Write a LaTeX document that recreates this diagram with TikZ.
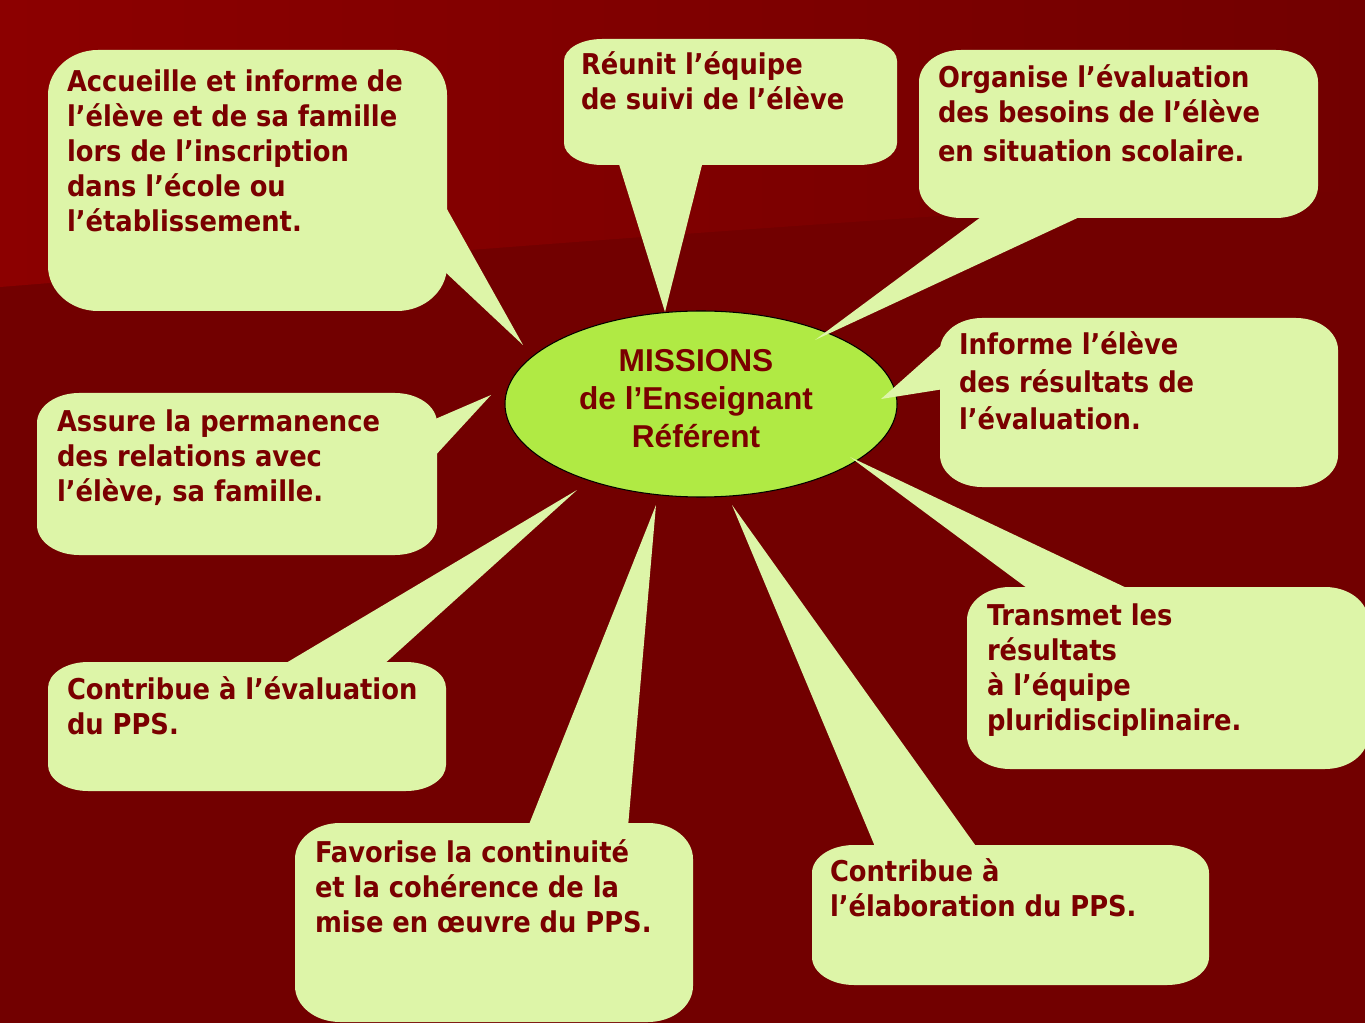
\documentclass[tikz,border=0pt]{standalone}
\usepackage{fontspec}
\setmainfont{DejaVu Sans Condensed}
\newfontfamily\arialb{Liberation Sans}
\definecolor{bgdark}{RGB}{114,0,0}
\definecolor{bglight}{RGB}{140,0,0}
\definecolor{bubfill}{RGB}{221,245,168}
\definecolor{ellfill}{RGB}{176,234,68}
\definecolor{ink}{RGB}{122,0,0}
\newcommand\mystrut{\rule{0pt}{16pt}}
\newcommand\ctrstrut{\rule{0pt}{18pt}}
% rounded box with elliptic corners: x1 y1 x2 y2 rx ry (pixel coords, y down)
\newcommand\rbox[6]{%
  \fill[bubble] (#1+#5,#2) -- (#3-#5,#2)
    arc[start angle=-90,end angle=0,x radius=#5,y radius=#6]
    -- (#3,#4-#6)
    arc[start angle=0,end angle=90,x radius=#5,y radius=#6]
    -- (#1+#5,#4)
    arc[start angle=90,end angle=180,x radius=#5,y radius=#6]
    -- (#1,#2+#6)
    arc[start angle=180,end angle=270,x radius=#5,y radius=#6] -- cycle;}
\begin{document}
\begin{tikzpicture}[x=0.02cm,y=-0.02cm,
  bubble/.style={fill=bubfill},
  tail/.style={fill=bubfill},
  txt/.style={anchor=north west,inner sep=0pt,outer sep=0pt,align=left,text=ink,
    font=\bfseries\fontsize{16.3}{19.84}\selectfont},
  ctr/.style={ellipse,fill=ellfill,draw=black,line width=0.6pt,minimum width=392\pgflinewidth}]
% background
\useasboundingbox (0,0) rectangle (1365,1023);
\fill[bgdark] (0,0) rectangle (1365,1023);
\shade[left color=bglight,right color=bgdark] (0,0) -- (1365,0) -- (1365,190)
  .. controls (900,215) and (400,255) .. (0,287) -- cycle;
% central ellipse
\fill[ellfill,draw=black,line width=0.6pt] (701,404) ellipse[x radius=196,y radius=93];
\node[inner sep=0pt,anchor=north,align=center,text=ink,
  font=\arialb\bfseries\fontsize{18}{21.5}\selectfont] (centre) at (696,340)
  {\ctrstrut MISSIONS\\de l’Enseignant\\Référent};
% tail tips
\coordinate (p1) at (523,345);
\coordinate (p2) at (665,312);
\coordinate (p3) at (815,340);
\coordinate (p4) at (881,399);
\coordinate (p5) at (491,395);
\coordinate (p6) at (577,490);
\coordinate (p7) at (656,505);
\coordinate (p8) at (732,505);
\coordinate (p9) at (850,457);
% bubble 1
\rbox{48}{50}{447}{311}{50}{45}
\fill[tail] (443,202) -- (p1) -- (443,270) -- cycle;
% bubble 2
\rbox{564}{39}{897}{165}{38}{22}
\fill[tail] (618,161) -- (p2) -- (703,161) -- cycle;
% bubble 3
\rbox{919}{50}{1318}{218}{42}{32}
\fill[tail] (985,214) -- (p3) -- (1086,214) -- cycle;
% bubble 4
\rbox{940}{318}{1338}{487}{42}{32}
\fill[tail] (944,343) -- (p4) -- (944,389) -- cycle;
% bubble 5
\rbox{37}{393}{437}{555}{42}{30}
\fill[tail] (433,420) -- (p5) -- (433,458) -- cycle;
% bubble 6
\rbox{48}{662}{446}{791}{40}{26}
\fill[tail] (281,666) -- (p6) -- (382,666) -- cycle;
% bubble 7
\rbox{295}{823}{693}{1022}{45}{36}
\fill[tail] (528,827) -- (p7) -- (628,827) -- cycle;
% bubble 8
\rbox{812}{845}{1209}{985}{42}{28}
\fill[tail] (876,849) -- (p8) -- (978,849) -- cycle;
% bubble 9
\rbox{967}{587}{1368}{769}{43}{33}
\fill[tail] (1031,591) -- (p9) -- (1133,591) -- cycle;
% texts
\node[txt] (t1) at (67,63.8) {\mystrut Accueille et informe de\\l’élève et de sa famille\\lors de l’inscription\\dans l’école ou\\l’établissement.};
\node[txt] (t2) at (581,46.8) {\mystrut Réunit l’équipe\\de suivi de l’élève};
\node[txt] (t3) at (938,59.8) {\mystrut Organise l’évaluation\\des besoins de l’élève\\[2.2pt]en situation scolaire.};
\node[txt,font=\bfseries\fontsize{16.3}{21.26}\selectfont] (t4) at (959,326.8) {\mystrut Informe l’élève\\des résultats de\\l’évaluation.};
\node[txt] (t5) at (57,403.8) {\mystrut Assure la permanence\\des relations avec\\l’élève, sa famille.};
\node[txt] (t6) at (67,671.8) {\mystrut Contribue à l’évaluation\\du PPS.};
\node[txt] (t7) at (315,834.8) {\mystrut Favorise la continuité\\et la cohérence de la\\mise en œuvre du PPS.};
\node[txt] (t8) at (830,853.8) {\mystrut Contribue à\\l’élaboration du PPS.};
\node[txt] (t9) at (987,597.8) {\mystrut Transmet les\\résultats\\à l’équipe\\pluridisciplinaire.};
\end{tikzpicture}
\end{document}
